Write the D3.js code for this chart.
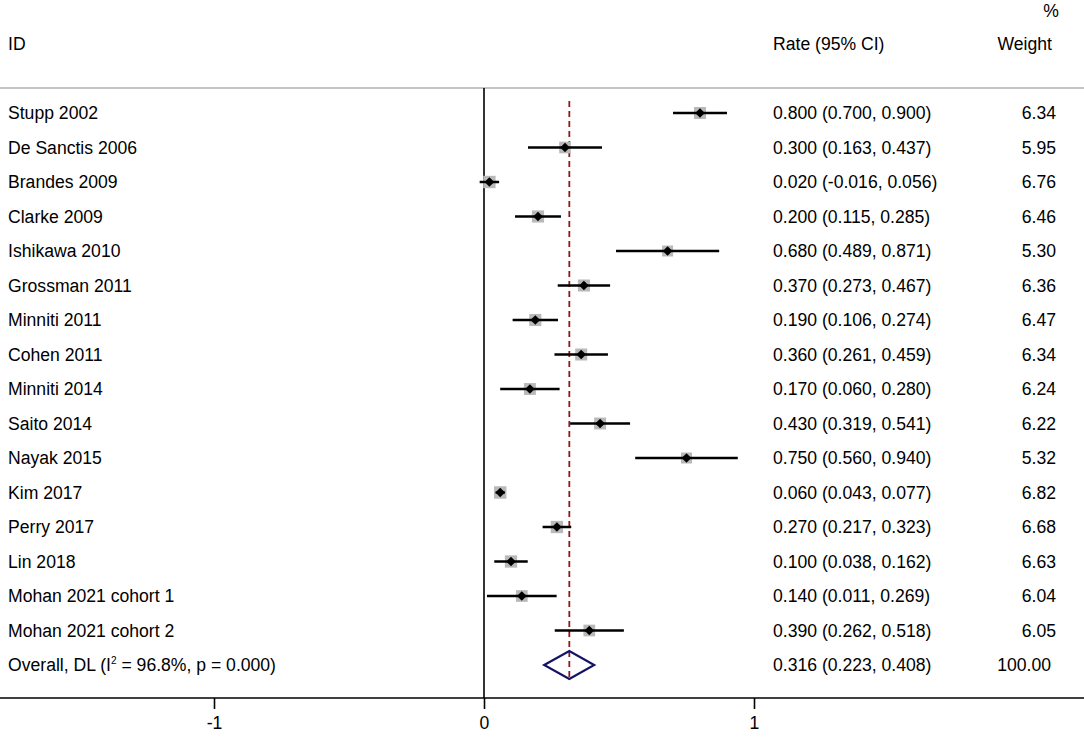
<!DOCTYPE html>
<html>
<head>
<meta charset="utf-8">
<script src="https://cdn.jsdelivr.net/npm/d3@7"></script>
<style>
  html, body { margin: 0; padding: 0; background: #fff; }
  svg { display: block; }
  text { font-family: "Liberation Sans", Arial, Helvetica, sans-serif; fill: #000; }
</style>
</head>
<body>
<svg id="chart" width="1084" height="738"></svg>
<script>
// ---- data ----
const studies = ["Stupp 2002","De Sanctis 2006","Brandes 2009","Clarke 2009","Ishikawa 2010","Grossman 2011","Minniti 2011","Cohen 2011","Minniti 2014","Saito 2014","Nayak 2015","Kim 2017","Perry 2017","Lin 2018","Mohan 2021 cohort 1","Mohan 2021 cohort 2"];
const rates  = [0.800,0.300,0.020,0.200,0.680,0.370,0.190,0.360,0.170,0.430,0.750,0.060,0.270,0.100,0.140,0.390];
const lower  = [0.700,0.163,-0.016,0.115,0.489,0.273,0.106,0.261,0.060,0.319,0.560,0.043,0.217,0.038,0.011,0.262];
const upper  = [0.900,0.437,0.056,0.285,0.871,0.467,0.274,0.459,0.280,0.541,0.940,0.077,0.323,0.162,0.269,0.518];
const weights = [6.34,5.95,6.76,6.46,5.30,6.36,6.47,6.34,6.24,6.22,5.32,6.82,6.68,6.63,6.04,6.05];
const overall = {label: "Overall, DL", i2: "96.8%", p: "0.000", rate: 0.316, lower: 0.223, upper: 0.408, weight: 100.00};
const xTicks = [-1, 0, 1];

// ---- layout ----
const svg = d3.select("#chart");
const W = 1084;
const x = d3.scaleLinear().domain([0, 1]).range([484, 754]);
const rowIds = studies.concat(["__overall__"]);
const y = d3.scalePoint().domain(rowIds).range([113, 665]);
const boxSide = d3.scaleSqrt().domain([0, 6.34]).range([0, 12]);
const fs = 17.6;
const rateX = 773, weightX = 1056;
const fmt = v => d3.format(".3f")(v).replace("\u2212", "-");

// header
svg.append("text").attr("x", 8).attr("y", 50).attr("font-size", fs).text("ID");
svg.append("text").attr("x", rateX).attr("y", 50).attr("font-size", fs).text("Rate (95% CI)");
svg.append("text").attr("x", 1052).attr("y", 50).attr("font-size", fs).attr("text-anchor", "end").text("Weight");
svg.append("text").attr("x", 1059).attr("y", 17).attr("font-size", fs).attr("text-anchor", "end").text("%");

// top rule
svg.append("line").attr("x1", 0).attr("x2", W).attr("y1", 88).attr("y2", 88)
  .attr("stroke", "#c4c4c4").attr("stroke-width", 2);

// zero line
svg.append("line").attr("x1", x(0)).attr("x2", x(0)).attr("y1", 88).attr("y2", 698)
  .attr("stroke", "#000").attr("stroke-width", 1.6);

// overall dashed line
svg.append("line").attr("x1", x(overall.rate)).attr("x2", x(overall.rate))
  .attr("y1", 101).attr("y2", 679)
  .attr("stroke", "#8e1a1a").attr("stroke-width", 1.8).attr("stroke-dasharray", "6,4");

// study rows
const rows = svg.append("g").selectAll("g").data(studies).join("g");
rows.append("text").attr("x", 8).attr("y", (d) => y(d) + 6).attr("font-size", fs).text(d => d);

rows.append("rect")
  .attr("x", (d, i) => x(rates[i]) - boxSide(weights[i]) / 2)
  .attr("y", (d, i) => y(d) - boxSide(weights[i]) / 2)
  .attr("width", (d, i) => boxSide(weights[i]))
  .attr("height", (d, i) => boxSide(weights[i]))
  .attr("fill", "#b9b9b9");

rows.append("line")
  .attr("x1", (d, i) => x(lower[i])).attr("x2", (d, i) => x(upper[i]))
  .attr("y1", d => y(d)).attr("y2", d => y(d))
  .attr("stroke", "#000").attr("stroke-width", 2.5);

rows.append("path")
  .attr("d", (d, i) => {
    const cx = x(rates[i]), cy = y(d), r = 4.8;
    return `M${cx - r},${cy}L${cx},${cy - r}L${cx + r},${cy}L${cx},${cy + r}Z`;
  })
  .attr("fill", "#000");

rows.append("text").attr("x", rateX).attr("y", d => y(d) + 6).attr("font-size", fs)
  .text((d, i) => `${fmt(rates[i])} (${fmt(lower[i])}, ${fmt(upper[i])})`);
rows.append("text").attr("x", weightX).attr("y", d => y(d) + 6).attr("font-size", fs)
  .attr("text-anchor", "end").text((d, i) => weights[i].toFixed(2));

// overall row
const oy = y("__overall__");
const ot = svg.append("text").attr("x", 8).attr("y", oy + 6).attr("font-size", fs);
ot.append("tspan").text(overall.label + " (I");
ot.append("tspan").attr("font-size", 10).attr("dy", -7).text("2");
ot.append("tspan").attr("dy", 7).text(` = ${overall.i2}, p = ${overall.p})`);

svg.append("path")
  .attr("d", `M${x(overall.lower)},${oy}L${x(overall.rate)},${oy - 14}L${x(overall.upper)},${oy}L${x(overall.rate)},${oy + 14}Z`)
  .attr("fill", "none").attr("stroke", "#141466").attr("stroke-width", 2.2);

svg.append("text").attr("x", rateX).attr("y", oy + 6).attr("font-size", fs)
  .text(`${fmt(overall.rate)} (${fmt(overall.lower)}, ${fmt(overall.upper)})`);
svg.append("text").attr("x", 1051).attr("y", oy + 6).attr("font-size", fs)
  .attr("text-anchor", "end").text(overall.weight.toFixed(2));

// x axis
svg.append("line").attr("x1", 0).attr("x2", W).attr("y1", 698).attr("y2", 698)
  .attr("stroke", "#000").attr("stroke-width", 1.6);
const axis = d3.axisBottom(x).tickValues(xTicks).tickSize(11).tickPadding(8)
  .tickFormat(d => String(d));
const ag = svg.append("g").attr("transform", "translate(0,698)").call(axis);
ag.select(".domain").remove();
ag.selectAll(".tick line").attr("stroke", "#000").attr("stroke-width", 1.6);
ag.selectAll(".tick text").attr("font-size", fs).attr("font-family", "Liberation Sans, Arial, sans-serif").attr("fill", "#000");
</script>
</body>
</html>
